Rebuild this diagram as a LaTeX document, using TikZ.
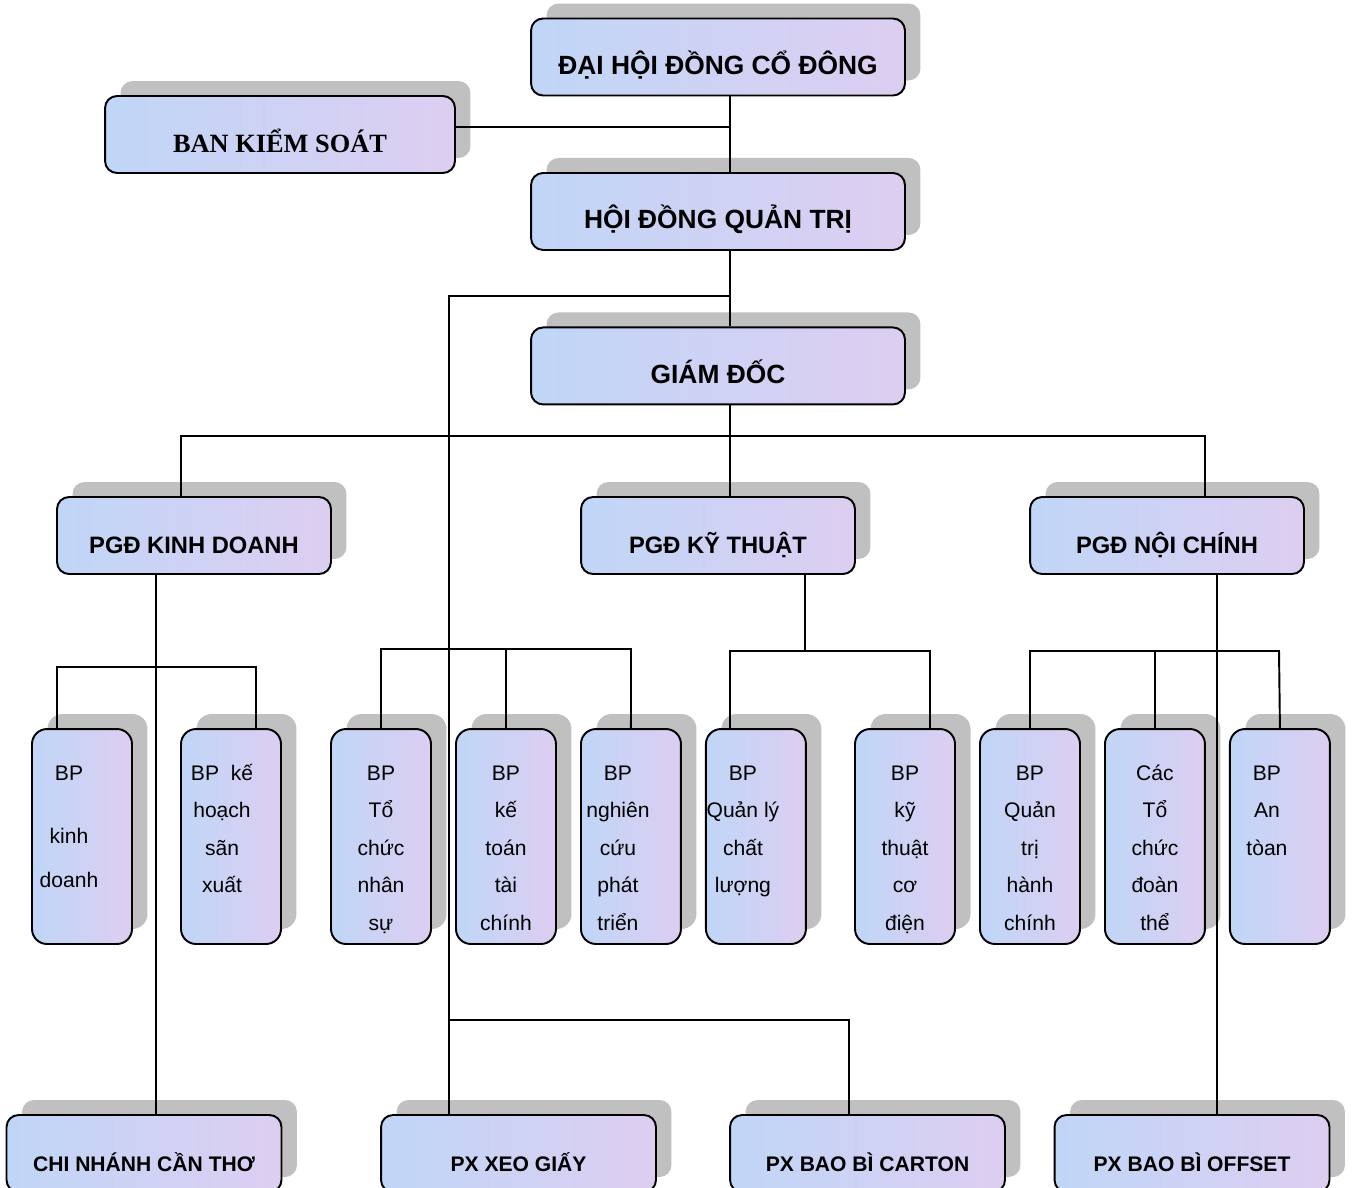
\documentclass[tikz,border=0pt]{standalone}
\usepackage{fontspec}
\setmainfont{Liberation Sans}
\newfontfamily\timesfont{Liberation Serif}
\usetikzlibrary{shadows}
\definecolor{boxblue}{RGB}{192,214,247}
\definecolor{boxlilac}{RGB}{221,206,241}
\definecolor{shadowgray}{RGB}{192,192,192}
\tikzstyle{org box}=[
        draw,
        rounded corners = 0.24cm,
        left color = boxblue,
        right color = boxlilac,
        inner sep = 0pt,
        drop shadow = {shadow xshift=0.31cm, shadow yshift=0.3cm, fill=shadowgray, opacity=1}
    ]
\tikzstyle{top box}=[
    org box,
    minimum width = 7.48cm,
    minimum height = 1.54cm,
    text height = 0.7cm,
    text depth = 0pt,
    font = \bfseries\fontsize{15pt}{18pt}\selectfont
]
\tikzstyle{side box}=[
    top box,
    minimum width = 7cm,
    font = \timesfont\bfseries\fontsize{15pt}{18pt}\selectfont
]
\tikzstyle{pgd box}=[
    top box,
    minimum width = 5.48cm,
    font = \bfseries\fontsize{13.5pt}{16pt}\selectfont
]
\tikzstyle{unit box}=[
    top box,
    minimum width = 5.5cm,
    font = \bfseries\fontsize{12pt}{14pt}\selectfont
]
\tikzstyle{col box}=[
    org box,
    rounded corners = 0.3cm,
    minimum width = 2cm,
    minimum height = 4.3cm,
    font = \fontsize{12pt}{0.75cm}\selectfont
]
% text of a tall box: optional shift, then the lines
\newcommand\coltext[2][0cm]{\hspace*{#1}\parbox[c][4.3cm][t]{2cm}{\centering\rule{0pt}{1.02cm}#2}\hspace*{-#1}}

\begin{document}
\begin{tikzpicture}[x=0.02cm, y=-0.02cm, node distance={3.09cm}, line width=1.1pt]
        \useasboundingbox (0,0) rectangle (1354,1187);

        \node[top box] (1) at (718,57) {ĐẠI HỘI ĐỒNG CỔ ĐÔNG};
        \node[side box] (2) at (280,134.5) {BAN KIỂM SOÁT};
        \node[top box] (3) [below of = 1] {HỘI ĐỒNG QUẢN TRỊ};
        \node[top box] (4) [below of = 3] {GIÁM ĐỐC};

        \node[pgd box] (5) at (194,535.5) {PGĐ KINH DOANH};
        \node[pgd box] (6) at (718,535.5) {PGĐ KỸ THUẬT};
        \node[pgd box] (7) at (1167,535.5) {PGĐ NỘI CHÍNH};

        \node[col box] (8) at (82,836.5) {\coltext[-0.26cm]{BP\\[0.51cm]kinh\\[0.13cm]doanh}};
        \node[col box] (9) at (231,836.5) {\coltext[-0.18cm]{BP~~kế\\hoạch\\sãn\\xuất}};
        \node[col box] (10) at (381,836.5) {\coltext{BP\\Tổ\\chức\\nhân\\sự}};
        \node[col box, node distance = 2.5cm] (11) [right of = 10] {\coltext{BP\\kế\\toán\\tài\\chính}};
        \node[col box, node distance = 2.5cm] (12) [right of = 11] {\coltext[-0.26cm]{BP\\nghiên\\cứu\\phát\\triển}};
        \node[col box, node distance = 2.5cm] (13) [right of = 12] {\coltext[-0.26cm]{BP\\Quản lý\\chất\\lượng}};
        \node[col box] (14) at (905,836.5) {\coltext{BP\\kỹ\\thuật\\cơ\\điện}};
        \node[col box, node distance = 2.5cm] (15) [right of = 14] {\coltext{BP\\Quản\\trị\\hành\\chính}};
        \node[col box, node distance = 2.5cm] (16) [right of = 15] {\coltext{Các\\Tổ\\chức\\đoàn\\thể}};
        \node[col box, node distance = 2.5cm] (17) [right of = 16] {\coltext[-0.26cm]{BP\\An\\tòan}};

        \node[unit box] (18) at (144,1153.5) {CHI NHÁNH CẦN THƠ};
        \node[unit box] (19) at (518.5,1153.5) {PX XEO GIẤY};
        \node[unit box] (20) at (867.5,1153.5) {PX BAO BÌ CARTON};
        \node[unit box] (21) at (1192,1153.5) {PX BAO BÌ OFFSET};

        \coordinate (k1) at (730,127);
        \coordinate (k2) at (449,296);
        \coordinate (k3) at (849,1020);
        \coordinate (k4) at (730,436);
        \coordinate (k5) at (181,436);
        \coordinate (k6) at (1205,436);
        \coordinate (k7) at (156,667);
        \coordinate (k8) at (57,667);
        \coordinate (k9) at (256,667);
        \coordinate (k10) at (381,649);
        \coordinate (k11) at (631,649);
        \coordinate (k12) at (805,651);
        \coordinate (k13) at (730,651);
        \coordinate (k14) at (930,651);
        \coordinate (k15) at (1217,651);
        \coordinate (k16) at (1030,651);
        \coordinate (k17) at (1279,651);

        \draw (1.south -| k1) -- (3.north -| k1);
        \draw (2.east |- k1) -- (k1);
        \draw (3.south -| k1) -- (4.north -| k1);
        \draw (k2 -| k1) -- (k2) -- (19.north -| k2);
        \draw (k2 |- k3) -- (k3) -- (20.north -| k3);
        \draw (4.south -| k4) -- (k4) -- (6.north -| k4);
        \draw (5.north -| k5) -- (k5) -- (k6) -- (7.north -| k6);
        \draw (5.south -| k7) -- (18.north -| k7);
        \draw (8.north -| k8) -- (k8) -- (k9) -- (9.north -| k9);
        \draw (10.north) -- (k10) -- (k11) -- (12.north);
        \draw (11.north) -- (11.north |- k10);
        \draw (6.south -| k12) -- (k12);
        \draw (13.north -| k13) -- (k13) -- (k14) -- (14.north -| k14);
        \draw (7.south -| k15) -- (21.north -| k15);
        \draw (15.north) -- (k16) -- (k17) -- (17.north);
        \draw (16.north) -- (16.north |- k16);

    \end{tikzpicture}
\end{document}
